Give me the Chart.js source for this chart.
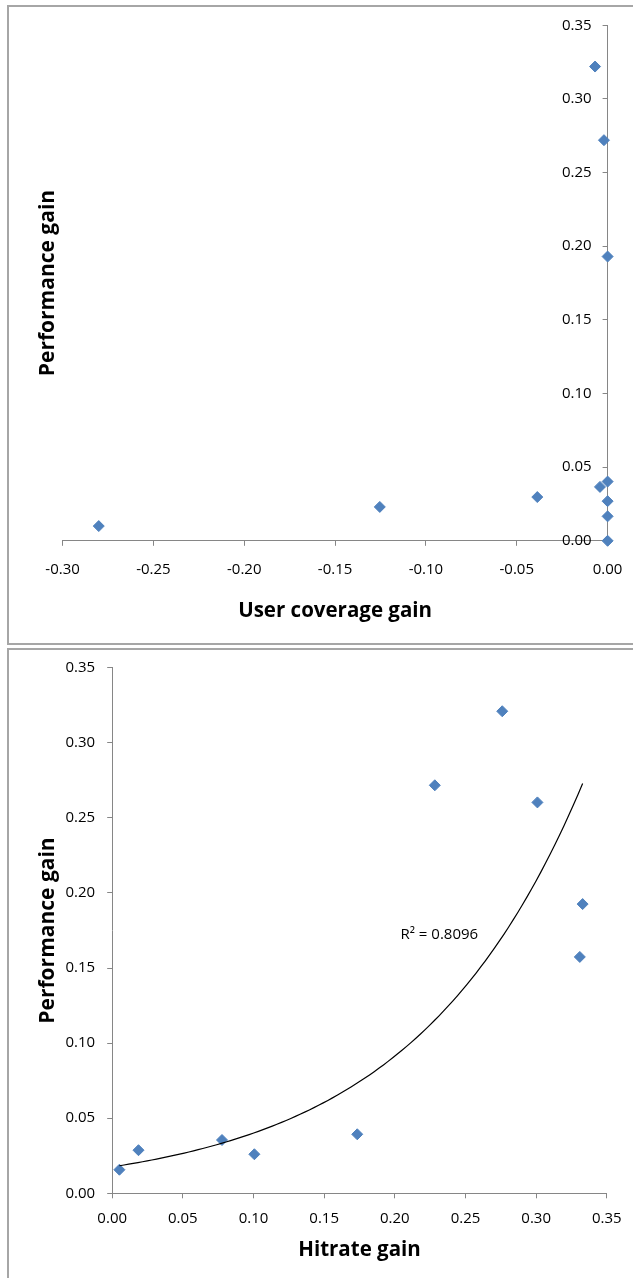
<!DOCTYPE html>
<html>
<head>
<meta charset="utf-8">
<script src="https://cdn.jsdelivr.net/npm/chart.js@4.4.1/dist/chart.umd.min.js"></script>
<style>
body { margin: 0; width: 633px; height: 1278px; overflow: hidden; background: #fff; position: relative; }
.frame { position: absolute; left: 7px; width: 700px; border: 2px solid #a6a6a6; border-right: none; box-sizing: border-box; }
#frame-top { top: 5px; height: 640px; }
#frame-bottom { top: 648px; height: 700px; border-bottom: none; }
canvas { position: absolute; left: 0; }
#coverage-chart { top: 0; }
#hitrate-chart { top: 646px; }
</style>
</head>
<body>
<div class="frame" id="frame-top"></div>
<div class="frame" id="frame-bottom"></div>
<canvas id="coverage-chart" width="633" height="646"></canvas>
<canvas id="hitrate-chart" width="633" height="632"></canvas>
<script>
// top plot: user coverage gain vs performance gain
const coverageGain = [-0.0069, -0.0020, 0.0000, -0.0042, 0.0000, 0.0000, 0.0000, 0.0000, -0.0387, -0.1254, -0.2801];
const coveragePerf = [0.3220, 0.2720, 0.1930, 0.0366, 0.0402, 0.0269, 0.0166, 0.0000, 0.0297, 0.0230, 0.0100];

// bottom plot: hitrate gain vs performance gain
const hitrateGain = [0.0051, 0.0186, 0.0777, 0.1006, 0.1734, 0.2283, 0.2760, 0.3009, 0.3329, 0.3309];
const hitratePerf = [0.0157, 0.0287, 0.0355, 0.0260, 0.0393, 0.2717, 0.3210, 0.2603, 0.1926, 0.1574];

const coverageRange = [-0.30, 0.00];
const hitrateRange = [0.00, 0.35];
const perfRange = [0.00, 0.35];
const tickStep = 0.05;

const trendLabel = 'R\u00b2 = 0.8096';
const trendLabelAt = { x: 0.204, y: 0.172 };

const BLUE = '#4F81BD';
const GRAY = '#868686';
const FONT = "'Open Sans'";
const tickFont = { family: FONT, size: 15 };
const titleFont = { family: FONT, size: 20.5, weight: 'bold' };
const yTitleFont = { family: FONT, size: 21, weight: 'bold' };

Chart.defaults.color = '#000';

function toPoints(xs, ys) {
    return xs.map((x, i) => ({ x: x, y: ys[i] }));
}

// Excel style exponential trendline: least squares on ln(y)
function expFit(xs, ys) {
    const n = xs.length;
    const ly = ys.map(Math.log);
    const mx = xs.reduce((a, b) => a + b, 0) / n;
    const my = ly.reduce((a, b) => a + b, 0) / n;
    let sxy = 0, sxx = 0;
    for (let i = 0; i < n; i++) {
        sxy += (xs[i] - mx) * (ly[i] - my);
        sxx += (xs[i] - mx) * (xs[i] - mx);
    }
    const b = sxy / sxx;
    const a = Math.exp(my - b * mx);
    return x => a * Math.exp(b * x);
}

function trendPoints(xs, ys) {
    const f = expFit(xs, ys);
    const lo = Math.min(...xs), hi = Math.max(...xs);
    const pts = [];
    for (let i = 0; i <= 100; i++) {
        const x = lo + (hi - lo) * i / 100;
        pts.push({ x: x, y: f(x) });
    }
    return pts;
}

function scatterSet(points) {
    return {
        data: points,
        pointStyle: 'rectRot',
        pointRadius: 5.5,
        pointBorderWidth: 1,
        backgroundColor: BLUE,
        borderColor: BLUE,
        clip: false,
        order: 1
    };
}

const fmt = v => v.toFixed(2);

// fixed axis band sizes; drop the label overflow padding so the plot area stays put
function fixHeight(h) {
    return s => { s.height = h; s.paddingLeft = 0; s.paddingRight = 0; };
}
function fixWidth(w) {
    return s => { s.width = w; };
}

const baseOptions = {
    responsive: false,
    animation: false,
    devicePixelRatio: 1,
    plugins: { legend: { display: false }, tooltip: { enabled: false } }
};

// top chart, y axis sits at x = 0 on the right with labels inside
new Chart(document.getElementById('coverage-chart'), {
    type: 'scatter',
    data: { datasets: [scatterSet(toPoints(coverageGain, coveragePerf))] },
    options: Object.assign({}, baseOptions, {
        layout: { padding: { top: 25.3, right: 0, bottom: 0, left: 0 } },
        scales: {
            x: {
                type: 'linear', position: 'bottom',
                min: coverageRange[0], max: coverageRange[1],
                ticks: { stepSize: tickStep, font: tickFont, padding: 15, maxRotation: 0, callback: fmt },
                grid: { drawOnChartArea: false, color: GRAY, tickLength: 5 },
                border: { color: GRAY },
                title: { display: true, text: 'User coverage gain', font: titleFont, padding: { top: 0, bottom: 23 } },
                afterFit: fixHeight(105.2)
            },
            y: {
                type: 'linear', position: 'right',
                min: perfRange[0], max: perfRange[1],
                ticks: { stepSize: tickStep, font: tickFont, mirror: true, padding: -16, callback: fmt },
                grid: { drawOnChartArea: false, color: GRAY, tickLength: -5 },
                border: { color: GRAY },
                afterFit: fixWidth(25.4)
            },
            yTitle: {
                type: 'linear', position: 'left', min: 0, max: 1,
                ticks: { display: false },
                grid: { display: false },
                border: { display: false },
                title: { display: true, text: 'Performance gain', font: yTitleFont, padding: { top: 35, bottom: 0 } },
                afterFit: fixWidth(62.6)
            }
        }
    })
});

const r2Label = {
    id: 'r2Label',
    afterDatasetsDraw(chart) {
        const ctx = chart.ctx;
        ctx.save();
        ctx.font = '15px ' + FONT;
        ctx.fillStyle = '#000';
        ctx.textAlign = 'left';
        ctx.textBaseline = 'middle';
        ctx.fillText(trendLabel, chart.scales.x.getPixelForValue(trendLabelAt.x), chart.scales.y.getPixelForValue(trendLabelAt.y));
        ctx.restore();
    }
};

// bottom chart with exponential trendline
new Chart(document.getElementById('hitrate-chart'), {
    type: 'scatter',
    data: {
        datasets: [
            scatterSet(toPoints(hitrateGain, hitratePerf)),
            {
                type: 'line',
                data: trendPoints(hitrateGain, hitratePerf),
                borderColor: '#000',
                borderWidth: 1.2,
                pointRadius: 0,
                fill: false,
                tension: 0,
                order: 0
            }
        ]
    },
    options: Object.assign({}, baseOptions, {
        layout: { padding: { top: 21.7, right: 26.2, bottom: 0, left: 0 } },
        scales: {
            x: {
                type: 'linear', position: 'bottom',
                min: hitrateRange[0], max: hitrateRange[1],
                ticks: { stepSize: tickStep, font: tickFont, padding: 11, maxRotation: 0, callback: fmt },
                grid: { drawOnChartArea: false, color: GRAY, tickLength: 5 },
                border: { color: GRAY },
                title: { display: true, text: 'Hitrate gain', font: titleFont, padding: { top: 0, bottom: 16 } },
                afterFit: fixHeight(84.7)
            },
            y: {
                type: 'linear', position: 'left',
                min: perfRange[0], max: perfRange[1],
                ticks: { stepSize: tickStep, font: tickFont, padding: 12, callback: fmt },
                grid: { drawOnChartArea: false, color: GRAY, tickLength: 5 },
                border: { color: GRAY },
                title: { display: true, text: 'Performance gain', font: yTitleFont, padding: { top: 35, bottom: 0 } },
                afterFit: fixWidth(112.2)
            }
        }
    }),
    plugins: [r2Label]
});
</script>
</body>
</html>
